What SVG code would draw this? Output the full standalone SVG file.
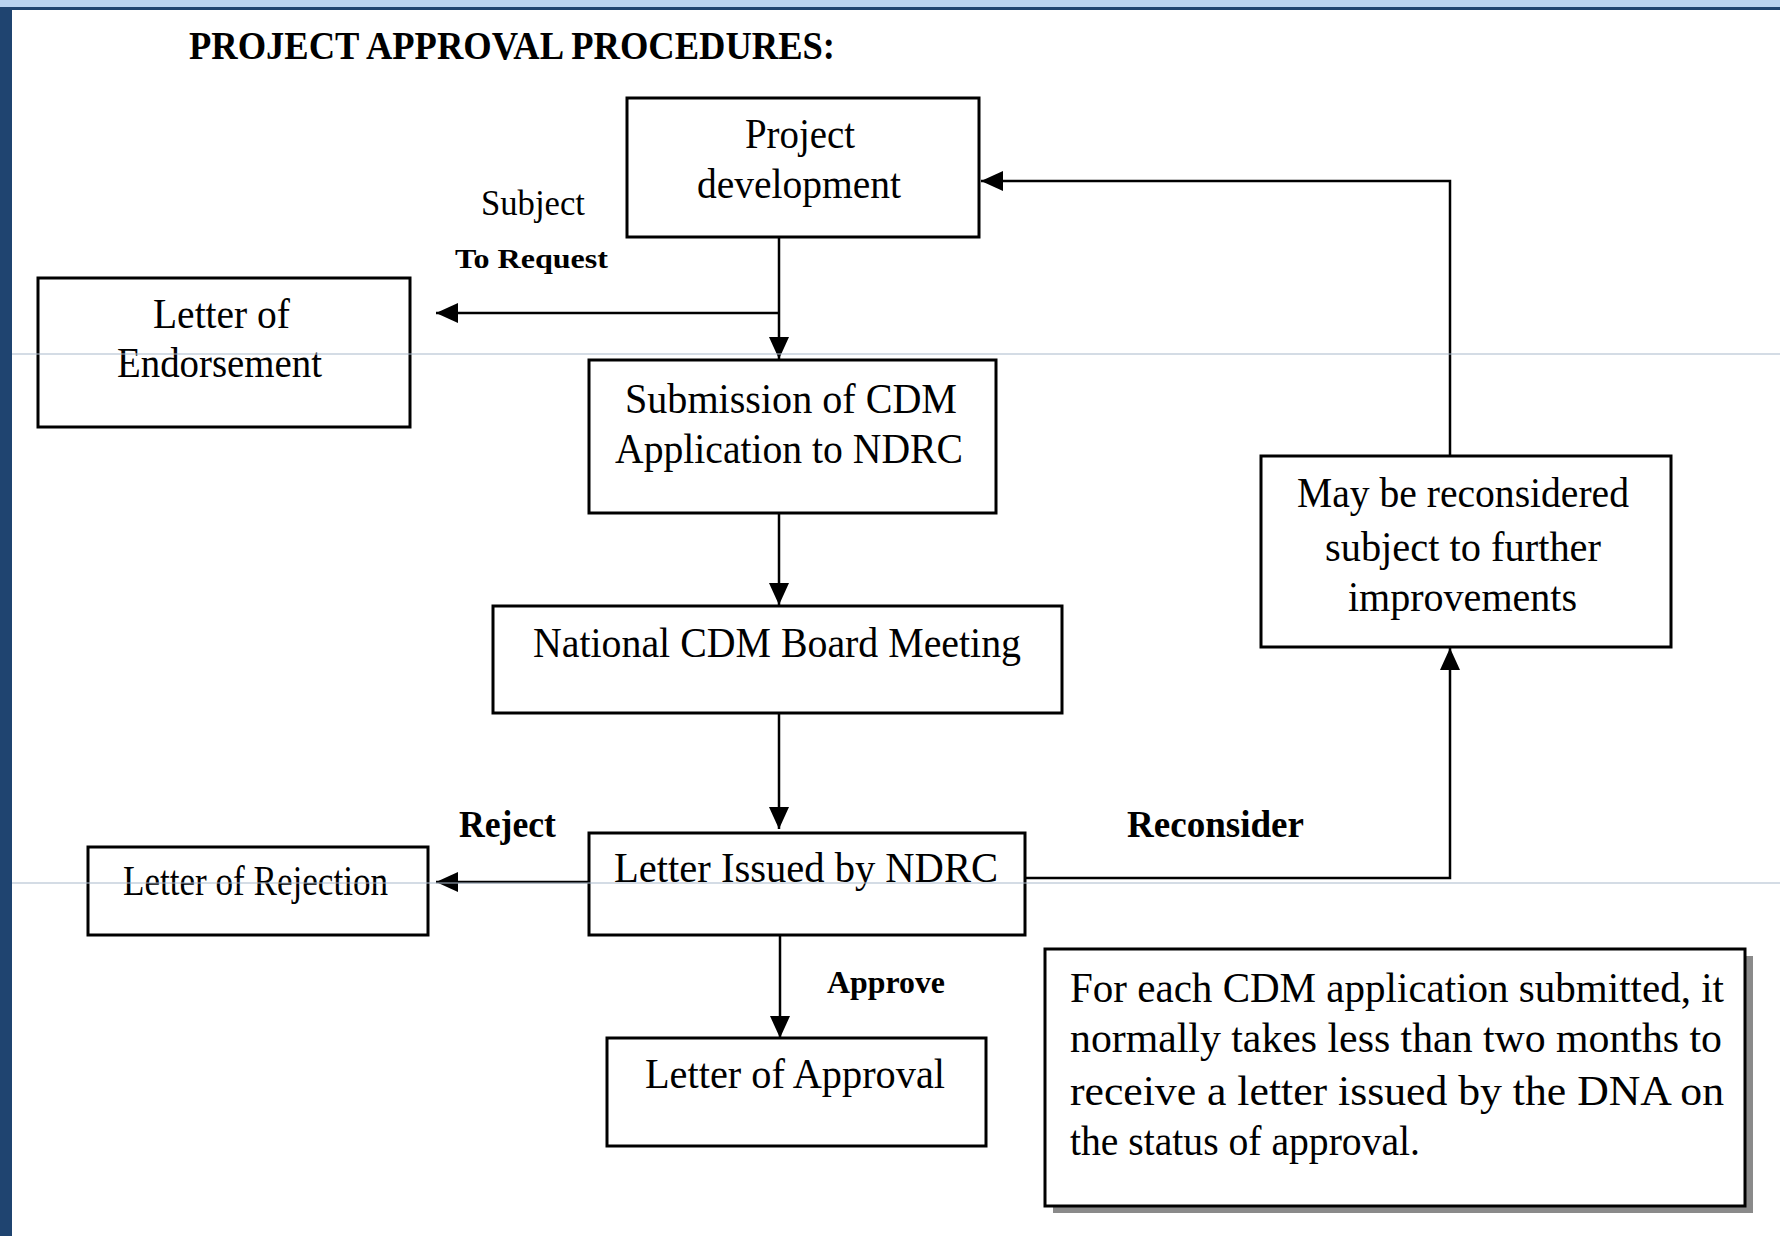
<svg xmlns="http://www.w3.org/2000/svg" width="1780" height="1236" viewBox="0 0 1780 1236">
<style>
.box{fill:#fff;stroke:#000;stroke-width:3}
.t{font-family:"Liberation Serif","Times New Roman",serif;font-size:43px;fill:#000}
.lbl{font-family:"Liberation Serif","Times New Roman",serif;fill:#000}
.con{fill:none;stroke:#000;stroke-width:2.5}
.guide{stroke:#aab9cc;stroke-width:1.2}
</style>
<defs>
<marker id="ah" markerUnits="userSpaceOnUse" markerWidth="22" markerHeight="20" refX="22" refY="10" orient="auto">
<path d="M0,0 L22,10 L0,20 z" fill="#000"/>
</marker>
</defs>
<rect x="0" y="0" width="1780" height="1236" fill="#fff"/>
<rect x="0" y="0" width="1780" height="7" fill="#b9d3f0"/>
<rect x="0" y="7" width="1780" height="3" fill="#1f4470"/>
<rect x="0" y="7" width="12" height="1229" fill="#1f4470"/>
<text x="189" y="59" class="lbl" font-size="40" font-weight="bold" textLength="646" lengthAdjust="spacingAndGlyphs">PROJECT APPROVAL PROCEDURES:</text>

<g id="connectors">
<path class="con" d="M779,237 V359" marker-end="url(#ah)"/>
<path class="con" d="M779,313 H436" stroke-width="3.5" marker-end="url(#ah)"/>
<path class="con" d="M779,513 V605" marker-end="url(#ah)"/>
<path class="con" d="M779,713 V829" marker-end="url(#ah)"/>
<path class="con" d="M589,882 H436" stroke-width="3" marker-end="url(#ah)"/>
<path class="con" d="M780,935 V1038" marker-end="url(#ah)"/>
<path class="con" d="M1026,878 H1450 V648" stroke-width="3" marker-end="url(#ah)"/>
<path class="con" d="M1450,455 V181 H981" stroke-width="3" marker-end="url(#ah)"/>
</g>

<g id="labels">
<text x="481" y="215" class="lbl" font-size="35" textLength="104" lengthAdjust="spacingAndGlyphs">Subject</text>
<text x="455" y="268" class="lbl" font-size="27" font-weight="bold" textLength="153" lengthAdjust="spacingAndGlyphs">To Request</text>
<text x="459" y="837" class="lbl" font-size="38" font-weight="bold" textLength="97" lengthAdjust="spacingAndGlyphs">Reject</text>
<text x="1127" y="837" class="lbl" font-size="38" font-weight="bold" textLength="177" lengthAdjust="spacingAndGlyphs">Reconsider</text>
<text x="827" y="993" class="lbl" font-size="31" font-weight="bold" textLength="118" lengthAdjust="spacingAndGlyphs">Approve</text>
</g>

<g id="project-development">
<rect class="box" x="627" y="98" width="352" height="139"/>
<text class="t" x="745" y="148" textLength="110" lengthAdjust="spacingAndGlyphs">Project</text>
<text class="t" x="697" y="198" textLength="204" lengthAdjust="spacingAndGlyphs">development</text>
</g>

<g id="letter-of-endorsement">
<rect class="box" x="38" y="278" width="372" height="149"/>
<text class="t" x="153" y="328" textLength="137" lengthAdjust="spacingAndGlyphs">Letter of</text>
<text class="t" x="117" y="377" textLength="205" lengthAdjust="spacingAndGlyphs">Endorsement</text>
</g>

<g id="submission">
<rect class="box" x="589" y="360" width="407" height="153"/>
<text class="t" x="625" y="413" textLength="332" lengthAdjust="spacingAndGlyphs">Submission of CDM</text>
<text class="t" x="615" y="463" textLength="348" lengthAdjust="spacingAndGlyphs">Application to NDRC</text>
</g>

<g id="board-meeting">
<rect class="box" x="493" y="606" width="569" height="107"/>
<text class="t" x="533" y="657" textLength="488" lengthAdjust="spacingAndGlyphs">National CDM Board Meeting</text>
</g>

<g id="letter-issued">
<rect class="box" x="589" y="833" width="436" height="102"/>
<text class="t" x="614" y="882" textLength="384" lengthAdjust="spacingAndGlyphs">Letter Issued by NDRC</text>
</g>

<g id="letter-of-rejection">
<rect class="box" x="88" y="847" width="340" height="88"/>
<text class="t" x="123" y="895" textLength="265" lengthAdjust="spacingAndGlyphs">Letter of Rejection</text>
</g>

<g id="letter-of-approval">
<rect class="box" x="607" y="1038" width="379" height="108"/>
<text class="t" x="645" y="1088" textLength="300" lengthAdjust="spacingAndGlyphs">Letter of Approval</text>
</g>

<g id="reconsidered">
<rect class="box" x="1261" y="456" width="410" height="191"/>
<text class="t" x="1297" y="507" textLength="332" lengthAdjust="spacingAndGlyphs">May be reconsidered</text>
<text class="t" x="1325" y="561" textLength="276" lengthAdjust="spacingAndGlyphs">subject to further</text>
<text class="t" x="1348" y="611" textLength="229" lengthAdjust="spacingAndGlyphs">improvements</text>
</g>

<g id="note">
<rect x="1053" y="956" width="700" height="257" fill="#8a8a8a"/>
<rect class="box" x="1045" y="949" width="700" height="257"/>
<text class="t" x="1070" y="1002" font-size="41" textLength="654" lengthAdjust="spacingAndGlyphs">For each CDM application submitted, it</text>
<text class="t" x="1070" y="1052" font-size="41" textLength="652" lengthAdjust="spacingAndGlyphs">normally takes less than two months to</text>
<text class="t" x="1070" y="1105" font-size="41" textLength="654" lengthAdjust="spacingAndGlyphs">receive a letter issued by the DNA on</text>
<text class="t" x="1070" y="1155" font-size="41" textLength="350" lengthAdjust="spacingAndGlyphs">the status of approval.</text>
</g>

<line class="guide" x1="12" y1="354" x2="1780" y2="354"/>
<line class="guide" x1="12" y1="883" x2="1780" y2="883"/>
</svg>
